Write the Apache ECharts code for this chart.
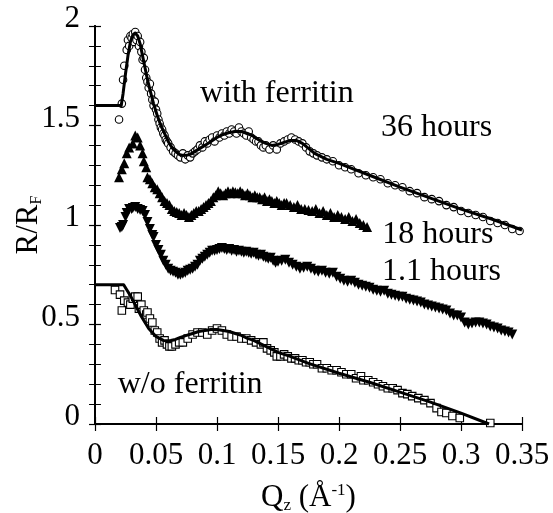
<!DOCTYPE html>
<html>
<head>
<meta charset="utf-8">
<script src="https://cdn.jsdelivr.net/npm/echarts@6/dist/echarts.min.js"></script>
<style>
html,body{margin:0;padding:0;background:#fff;}
#chart{width:553px;height:513px;}
</style>
</head>
<body>
<div id="chart"></div>
<script>
// ---- Data (Q_z in 1/Å, R/R_F) ----
var hours36 = [[0.0197,1.53],[0.022,1.61],[0.023,1.73],[0.024,1.80],[0.026,1.88],[0.027,1.93],[0.028,1.90],[0.029,1.95],[0.030,1.94],[0.031,1.96],[0.032,1.92],[0.033,1.97],[0.034,1.93],[0.035,1.95],[0.036,1.90],[0.037,1.92],[0.038,1.87],[0.039,1.83],[0.040,1.84],[0.041,1.78],[0.042,1.74],[0.043,1.72],[0.044,1.69],[0.045,1.71],[0.046,1.66],[0.047,1.63],[0.048,1.60],[0.049,1.62],[0.050,1.58],[0.051,1.56],[0.052,1.53],[0.053,1.51],[0.054,1.49],[0.055,1.48],[0.056,1.46],[0.057,1.45],[0.058,1.43],[0.059,1.42],[0.060,1.41],[0.062,1.39],[0.064,1.37],[0.066,1.36],[0.068,1.35],[0.070,1.34],[0.072,1.36],[0.074,1.33],[0.076,1.35],[0.078,1.34],[0.080,1.36],[0.082,1.37],[0.084,1.38],[0.086,1.40],[0.088,1.39],[0.090,1.42],[0.092,1.41],[0.094,1.43],[0.096,1.44],[0.098,1.42],[0.100,1.45],[0.102,1.44],[0.104,1.46],[0.106,1.45],[0.108,1.47],[0.110,1.46],[0.112,1.48],[0.114,1.47],[0.116,1.46],[0.118,1.49],[0.120,1.47],[0.122,1.46],[0.124,1.45],[0.126,1.47],[0.128,1.44],[0.130,1.43],[0.132,1.42],[0.134,1.42],[0.136,1.40],[0.138,1.39],[0.140,1.40],[0.143,1.38],[0.146,1.40],[0.149,1.38],[0.152,1.41],[0.155,1.42],[0.158,1.43],[0.161,1.44],[0.164,1.43],[0.167,1.42],[0.170,1.41],[0.173,1.39],[0.176,1.37],[0.179,1.36],[0.182,1.35],[0.186,1.34],[0.190,1.33],[0.195,1.32],[0.200,1.30],[0.205,1.29],[0.210,1.28],[0.216,1.26],[0.222,1.25],[0.228,1.24],[0.234,1.23],[0.240,1.21],[0.246,1.20],[0.252,1.19],[0.258,1.17],[0.264,1.16],[0.270,1.14],[0.276,1.13],[0.282,1.12],[0.288,1.10],[0.294,1.09],[0.300,1.07],[0.306,1.06],[0.312,1.05],[0.318,1.04],[0.324,1.02],[0.330,1.01],[0.336,1.00],[0.342,0.98],[0.348,0.97]];

var fit36 = [[0,1.6],[0.0215,1.6],[0.023,1.66],[0.025,1.76],[0.027,1.85],[0.029,1.92],[0.031,1.955],[0.033,1.965],[0.035,1.95],[0.037,1.91],[0.039,1.85],[0.041,1.79],[0.043,1.73],[0.045,1.68],[0.048,1.61],[0.051,1.55],[0.054,1.50],[0.057,1.46],[0.060,1.42],[0.063,1.39],[0.066,1.37],[0.069,1.355],[0.072,1.35],[0.075,1.35],[0.078,1.355],[0.082,1.37],[0.086,1.385],[0.090,1.40],[0.095,1.42],[0.100,1.44],[0.105,1.455],[0.110,1.465],[0.115,1.47],[0.120,1.47],[0.125,1.46],[0.130,1.445],[0.135,1.425],[0.140,1.41],[0.145,1.40],[0.150,1.405],[0.155,1.415],[0.160,1.425],[0.165,1.425],[0.170,1.41],[0.175,1.385],[0.180,1.36],[0.185,1.345],[0.190,1.33],[0.200,1.31],[0.225,1.25],[0.250,1.19],[0.275,1.135],[0.300,1.08],[0.325,1.03],[0.350,0.975]];

var hours18 = [[0.0197,1.24],[0.022,1.28],[0.024,1.31],[0.026,1.36],[0.028,1.39],[0.031,1.41],[0.033,1.45],[0.035,1.44],[0.037,1.40],[0.039,1.36],[0.040,1.32],[0.042,1.29],[0.043,1.24],[0.045,1.23],[0.047,1.21],[0.049,1.19],[0.051,1.18],[0.053,1.16],[0.055,1.14],[0.057,1.12],[0.059,1.11],[0.061,1.10],[0.063,1.08],[0.065,1.07],[0.067,1.065],[0.069,1.06],[0.071,1.05],[0.073,1.06],[0.075,1.05],[0.077,1.04],[0.079,1.05],[0.081,1.06],[0.083,1.07],[0.085,1.07],[0.087,1.08],[0.089,1.09],[0.091,1.10],[0.093,1.11],[0.095,1.12],[0.097,1.14],[0.099,1.15],[0.101,1.17],[0.103,1.16],[0.105,1.15],[0.107,1.16],[0.109,1.17],[0.111,1.16],[0.113,1.17],[0.115,1.165],[0.117,1.16],[0.119,1.17],[0.121,1.16],[0.123,1.15],[0.125,1.16],[0.127,1.15],[0.129,1.14],[0.131,1.15],[0.133,1.14],[0.135,1.14],[0.137,1.13],[0.139,1.14],[0.141,1.12],[0.143,1.13],[0.145,1.12],[0.147,1.11],[0.149,1.12],[0.151,1.11],[0.153,1.10],[0.155,1.11],[0.157,1.11],[0.160,1.10],[0.163,1.09],[0.166,1.10],[0.169,1.08],[0.172,1.08],[0.175,1.075],[0.178,1.07],[0.181,1.08],[0.184,1.06],[0.187,1.07],[0.190,1.05],[0.193,1.06],[0.196,1.04],[0.199,1.05],[0.202,1.04],[0.205,1.03],[0.208,1.04],[0.211,1.02],[0.214,1.03],[0.217,1.01],[0.220,1.00],[0.223,0.99]];

var hours1p1 = [[0.0205,0.985],[0.022,0.99],[0.023,1.00],[0.025,1.04],[0.026,1.06],[0.028,1.08],[0.030,1.08],[0.031,1.085],[0.033,1.09],[0.035,1.08],[0.037,1.075],[0.039,1.07],[0.041,1.05],[0.043,1.015],[0.045,0.98],[0.047,0.95],[0.048,0.94],[0.050,0.90],[0.052,0.875],[0.054,0.85],[0.056,0.82],[0.058,0.80],[0.060,0.78],[0.062,0.77],[0.064,0.765],[0.066,0.76],[0.068,0.75],[0.070,0.75],[0.072,0.755],[0.074,0.76],[0.076,0.77],[0.078,0.775],[0.080,0.78],[0.082,0.79],[0.084,0.80],[0.086,0.82],[0.088,0.83],[0.090,0.84],[0.092,0.85],[0.094,0.86],[0.096,0.87],[0.098,0.87],[0.100,0.875],[0.102,0.88],[0.104,0.885],[0.106,0.88],[0.108,0.875],[0.110,0.88],[0.112,0.87],[0.114,0.875],[0.116,0.865],[0.118,0.87],[0.120,0.865],[0.122,0.86],[0.124,0.865],[0.126,0.86],[0.128,0.855],[0.130,0.86],[0.132,0.85],[0.134,0.845],[0.136,0.85],[0.138,0.84],[0.140,0.835],[0.142,0.83],[0.144,0.835],[0.146,0.82],[0.148,0.81],[0.150,0.815],[0.153,0.82],[0.156,0.825],[0.159,0.81],[0.162,0.80],[0.165,0.79],[0.168,0.78],[0.171,0.785],[0.174,0.79],[0.177,0.78],[0.180,0.77],[0.183,0.765],[0.186,0.77],[0.189,0.76],[0.192,0.755],[0.195,0.76],[0.198,0.74],[0.201,0.73],[0.204,0.72],[0.207,0.715],[0.210,0.72],[0.213,0.71],[0.216,0.70],[0.219,0.695],[0.222,0.69],[0.225,0.685],[0.228,0.675],[0.231,0.67],[0.234,0.665],[0.237,0.67],[0.240,0.655],[0.243,0.65],[0.246,0.645],[0.249,0.64],[0.252,0.64],[0.255,0.63],[0.258,0.625],[0.261,0.62],[0.264,0.615],[0.267,0.61],[0.270,0.60],[0.273,0.595],[0.276,0.59],[0.279,0.585],[0.282,0.58],[0.285,0.575],[0.288,0.57],[0.291,0.555],[0.294,0.545],[0.297,0.545],[0.300,0.535],[0.303,0.51],[0.306,0.50],[0.309,0.505],[0.312,0.51],[0.315,0.51],[0.318,0.505],[0.321,0.50],[0.324,0.49],[0.327,0.485],[0.330,0.48],[0.333,0.47],[0.336,0.465],[0.339,0.46],[0.342,0.45]];

var withoutFerritin = [[0.0164,0.673],[0.0205,0.65],[0.022,0.57],[0.024,0.62],[0.027,0.61],[0.029,0.60],[0.031,0.63],[0.033,0.64],[0.035,0.64],[0.036,0.58],[0.038,0.60],[0.040,0.57],[0.042,0.55],[0.043,0.56],[0.045,0.53],[0.047,0.51],[0.049,0.47],[0.051,0.46],[0.053,0.43],[0.055,0.41],[0.057,0.42],[0.059,0.40],[0.061,0.39],[0.063,0.39],[0.066,0.40],[0.069,0.41],[0.072,0.41],[0.076,0.43],[0.080,0.45],[0.084,0.46],[0.088,0.46],[0.092,0.45],[0.096,0.47],[0.100,0.48],[0.104,0.47],[0.108,0.45],[0.112,0.44],[0.116,0.44],[0.120,0.43],[0.124,0.43],[0.128,0.42],[0.132,0.41],[0.136,0.40],[0.138,0.41],[0.141,0.38],[0.144,0.37],[0.147,0.36],[0.149,0.34],[0.152,0.34],[0.155,0.35],[0.158,0.34],[0.161,0.33],[0.164,0.33],[0.167,0.32],[0.170,0.32],[0.173,0.31],[0.176,0.31],[0.179,0.30],[0.182,0.30],[0.186,0.28],[0.190,0.28],[0.194,0.27],[0.198,0.27],[0.202,0.26],[0.206,0.25],[0.210,0.25],[0.214,0.23],[0.218,0.24],[0.220,0.22],[0.224,0.22],[0.228,0.21],[0.232,0.20],[0.236,0.19],[0.240,0.18],[0.244,0.18],[0.248,0.17],[0.252,0.155],[0.256,0.15],[0.260,0.14],[0.265,0.13],[0.270,0.12],[0.275,0.105],[0.280,0.08],[0.284,0.06],[0.288,0.055],[0.293,0.04],[0.299,0.03],[0.324,0.005]];

var fitWithout = [[0,0.7],[0.0235,0.7],[0.026,0.675],[0.029,0.645],[0.032,0.61],[0.035,0.575],[0.038,0.54],[0.041,0.51],[0.044,0.48],[0.047,0.46],[0.050,0.44],[0.053,0.43],[0.056,0.42],[0.059,0.418],[0.062,0.42],[0.066,0.425],[0.070,0.435],[0.075,0.445],[0.080,0.455],[0.085,0.465],[0.090,0.47],[0.095,0.475],[0.100,0.475],[0.105,0.47],[0.110,0.465],[0.115,0.455],[0.120,0.445],[0.125,0.43],[0.130,0.42],[0.135,0.405],[0.140,0.39],[0.145,0.375],[0.150,0.36],[0.160,0.34],[0.175,0.305],[0.200,0.255],[0.225,0.21],[0.250,0.16],[0.275,0.11],[0.300,0.055],[0.323,0.0]];

var annotationTexts = ['with ferritin', '36 hours', '18 hours', '1.1 hours', 'w/o ferritin'];
var annotationQ = [0.149, 0.280, 0.281, 0.284, 0.078];
var annotationR = [1.66, 1.49, 0.95, 0.765, 0.197];

var xTicks = [0, 0.05, 0.1, 0.15, 0.2, 0.25, 0.3, 0.35];
var yTicks = [0, 0.5, 1, 1.5, 2];

// ---- Chart ----
var FONT = '"Liberation Serif", "DejaVu Serif", serif';
var chart = echarts.init(document.getElementById('chart'), null, {renderer: 'canvas'});

function fmtNum(v) { return String(+v.toFixed(2)); }

var annData = annotationTexts.map(function (t, i) {
  return {name: t, value: [annotationQ[i], annotationR[i]]};
});

var baseAxisLine = {show: true, lineStyle: {color: '#000', width: 2}};

var option = {
  backgroundColor: '#fff',
  animation: false,
  grid: {left: 95, right: 31, top: 26, bottom: 89, containLabel: false, outerBoundsMode: 'none'},
  xAxis: [
    {
      type: 'value', min: xTicks[0], max: xTicks[xTicks.length - 1], interval: 0.05,
      position: 'bottom',
      axisLine: baseAxisLine,
      axisTick: {show: true, inside: true, length: 7, lineStyle: {color: '#000', width: 1.2}},
      splitLine: {show: false},
      axisLabel: {color: '#000', fontFamily: FONT, fontSize: 31, margin: 16, formatter: fmtNum},
      name: '{a|Q}{s|z}{a| (Å}{u|-1}{a|)}',
      nameLocation: 'middle', nameGap: 57, nameMoveOverlap: false,
      nameTextStyle: {
        color: '#000', fontFamily: FONT, fontSize: 31,
        rich: {
          a: {fontFamily: FONT, fontSize: 31, color: '#000'},
          s: {fontFamily: FONT, fontSize: 17, color: '#000', padding: [16, 0, 0, 0]},
          u: {fontFamily: FONT, fontSize: 17, color: '#000', padding: [0, 0, 14, 0]}
        }
      }
    },
    {
      type: 'value', min: xTicks[0], max: xTicks[xTicks.length - 1], interval: 0.05,
      position: 'top',
      axisLine: baseAxisLine,
      axisTick: {show: true, inside: true, length: 7, lineStyle: {color: '#000', width: 1.2}},
      splitLine: {show: false},
      axisLabel: {show: false}
    }
  ],
  yAxis: [
    {
      type: 'value', min: yTicks[0], max: yTicks[yTicks.length - 1], interval: 0.5,
      position: 'left',
      axisLine: baseAxisLine,
      axisTick: {show: true, inside: true, length: 6, lineStyle: {color: '#000', width: 1.2}},
      minorTick: {show: true, splitNumber: 5, length: 6, lineStyle: {color: '#000', width: 1}},
      splitLine: {show: false},
      axisLabel: {color: '#000', fontFamily: FONT, fontSize: 31, margin: 15, verticalAlign: 'bottom', lineHeight: 14, formatter: fmtNum},
      name: '{a|R/R}{s|F}',
      nameLocation: 'middle', nameGap: 50, nameRotate: 90, nameMoveOverlap: false,
      nameTextStyle: {
        color: '#000', fontFamily: FONT, fontSize: 31,
        rich: {
          a: {fontFamily: FONT, fontSize: 31, color: '#000'},
          s: {fontFamily: FONT, fontSize: 16, color: '#000', padding: [16, 0, 0, 0]}
        }
      }
    },
    {
      type: 'value', min: yTicks[0], max: yTicks[yTicks.length - 1], interval: 0.5,
      position: 'right',
      axisLine: baseAxisLine,
      axisTick: {show: true, inside: true, length: 6, lineStyle: {color: '#000', width: 1.2}},
      minorTick: {show: true, splitNumber: 5, length: 6, lineStyle: {color: '#000', width: 1}},
      splitLine: {show: false},
      axisLabel: {show: false}
    }
  ],
  series: [
    {
      name: '36 hours', type: 'scatter', data: hours36,
      symbol: 'circle', symbolSize: 7.5,
      itemStyle: {color: '#fff', borderColor: '#000', borderWidth: 1.1, opacity: 1}, z: 2
    },
    {
      name: '36 hours fit', type: 'line', data: fit36, smooth: false,
      showSymbol: false, lineStyle: {color: '#000', width: 3, join: 'round'}, z: 3
    },
    {
      name: '18 hours', type: 'scatter', data: hours18,
      symbol: 'triangle', symbolSize: 10,
      itemStyle: {color: '#000', opacity: 1}, z: 2
    },
    {
      name: '1.1 hours', type: 'scatter', data: hours1p1,
      symbol: 'triangle', symbolRotate: 180, symbolSize: 10,
      itemStyle: {color: '#000', opacity: 1}, z: 2
    },
    {
      name: 'w/o ferritin', type: 'scatter', data: withoutFerritin,
      symbol: 'rect', symbolSize: 7.5,
      itemStyle: {color: '#fff', borderColor: '#000', borderWidth: 1.1, opacity: 1}, z: 2
    },
    {
      name: 'w/o ferritin fit', type: 'line', data: fitWithout, smooth: false,
      showSymbol: false, lineStyle: {color: '#000', width: 3, join: 'round'}, z: 3
    },
    {
      name: 'annotations', type: 'scatter', data: annData,
      symbolSize: 0, silent: true, z: 5,
      itemStyle: {opacity: 1},
      label: {
        show: true, position: 'inside', formatter: '{b}', opacity: 1,
        color: '#000', fontFamily: FONT, fontSize: 32
      }
    }
  ]
};
chart.setOption(option);
</script>
</body>
</html>
